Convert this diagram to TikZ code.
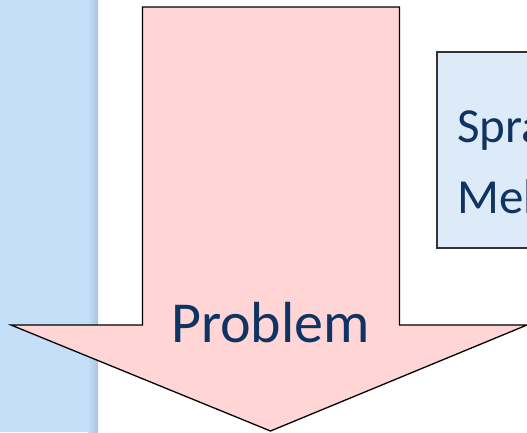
\documentclass[tikz,border=0pt]{standalone}
\usepackage{fontspec}
\newfontfamily\slidefont{Carlito}
\usepackage{tikz}
\usetikzlibrary{positioning,calc}

\definecolor{bandblue}{HTML}{C5DFF8}
\definecolor{bandshade}{HTML}{A9C3E0}
\definecolor{arrowpink}{HTML}{FFD5D5}
\definecolor{boxblue}{HTML}{DCEBF7}
\definecolor{inkblue}{HTML}{0F3463}

\begin{document}
\begin{tikzpicture}[x=1pt,y=-1pt,
  bigarrow/.style={draw=black,line width=1.3pt,fill=arrowpink,line join=miter},
  sidebox/.style={draw=black!80,line width=1.2pt,fill=boxblue},
  label/.style={text=inkblue,inner sep=0pt,font=\slidefont\fontsize{58}{58}\selectfont},
  boxtext/.style={text=inkblue,inner sep=0pt,font=\slidefont\fontsize{49}{49}\selectfont},
]
  \useasboundingbox (0,0) rectangle (527,432);
  \clip (0,0) rectangle (527,432);

  % left band with its shadow
  \fill[bandblue] (0,0) rectangle (88,432);
  \shade[left color=bandblue,right color=bandshade] (88,0) rectangle (98,432);

  % the big arrow
  \draw[bigarrow] (142.5,7) -- (399.5,7) -- (399.5,325) -- (527,325)
    -- (270.5,431) -- (11,325) -- (142.5,325) -- cycle;
  \node[label,anchor=base] (problem) at (270.5,342) {Problem};

  % box on the right, cut off by the edge
  \draw[sidebox] (437,52) rectangle (560,248);
  \node[boxtext,anchor=base west] (line1) at (457,142) {Spra};
  \node[boxtext,anchor=base west] (line2) at (457,213) {Meh};
\end{tikzpicture}
\end{document}
